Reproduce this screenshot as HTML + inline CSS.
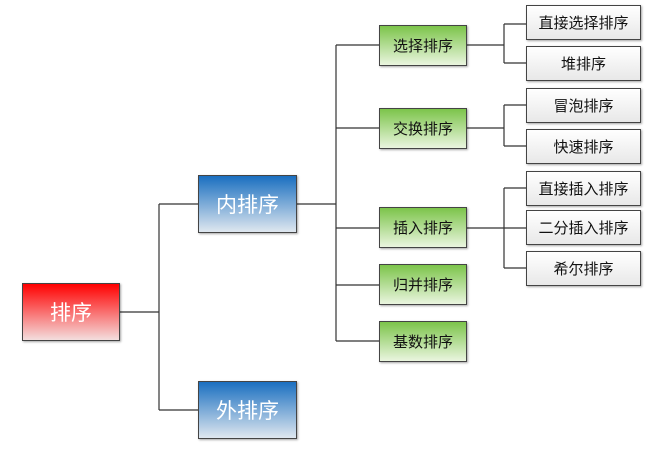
<!DOCTYPE html>
<html><head><meta charset="utf-8"><style>
body{margin:0;background:#fff;width:650px;height:451px;overflow:hidden;position:relative;font-family:"Liberation Sans","Noto Sans CJK SC",sans-serif}
.b{position:absolute;box-sizing:border-box;border:1px solid #444;display:flex;align-items:center;justify-content:center;box-shadow:1px 1px 2px rgba(0,0,0,.35)}
.r{background:linear-gradient(#f00,#f3dede);color:#fff;font-size:21px}
.bl{background:linear-gradient(#1a6fc0,#dfe7ef);color:#fff;font-size:21px}
.g{background:linear-gradient(#7cc44a,#eaf5df);color:#111;font-size:15px}
.w{background:linear-gradient(#fff,#e8e8e8);color:#111;font-size:15px}
svg{position:absolute;left:0;top:0}
</style></head><body>
<svg width="650" height="451"><g stroke="#333" stroke-width="1.2" fill="none">
<path d="M120 312H159M159 204V410M159 204H198M159 410H198"/>
<path d="M297 204H336M336 45V341M336 45H379M336 128H379M336 228H379M336 285H379M336 341H379"/>
<path d="M467 45H504M504 24V63M504 24H526M504 63H526"/>
<path d="M467 128H504M504 105V146M504 105H526M504 146H526"/>
<path d="M467 228H526M504 188V268M504 188H526M504 268H526"/>
</g></svg>
<div class="b r" style="left:22px;top:283px;width:98px;height:58px">排序</div>
<div class="b bl" style="left:198px;top:175px;width:99px;height:58px">内排序</div>
<div class="b bl" style="left:198px;top:381px;width:99px;height:58px">外排序</div>
<div class="b g" style="left:379px;top:25px;width:88px;height:41px">选择排序</div>
<div class="b g" style="left:379px;top:108px;width:88px;height:41px">交换排序</div>
<div class="b g" style="left:379px;top:207px;width:88px;height:41px">插入排序</div>
<div class="b g" style="left:379px;top:264px;width:88px;height:41px">归并排序</div>
<div class="b g" style="left:379px;top:321px;width:88px;height:41px">基数排序</div>
<div class="b w" style="left:526px;top:5px;width:115px;height:35px">直接选择排序</div>
<div class="b w" style="left:526px;top:46px;width:115px;height:35px">堆排序</div>
<div class="b w" style="left:526px;top:88px;width:115px;height:35px">冒泡排序</div>
<div class="b w" style="left:526px;top:129px;width:115px;height:35px">快速排序</div>
<div class="b w" style="left:526px;top:171px;width:115px;height:35px">直接插入排序</div>
<div class="b w" style="left:526px;top:210px;width:115px;height:35px">二分插入排序</div>
<div class="b w" style="left:526px;top:251px;width:115px;height:35px">希尔排序</div>
</body></html>
